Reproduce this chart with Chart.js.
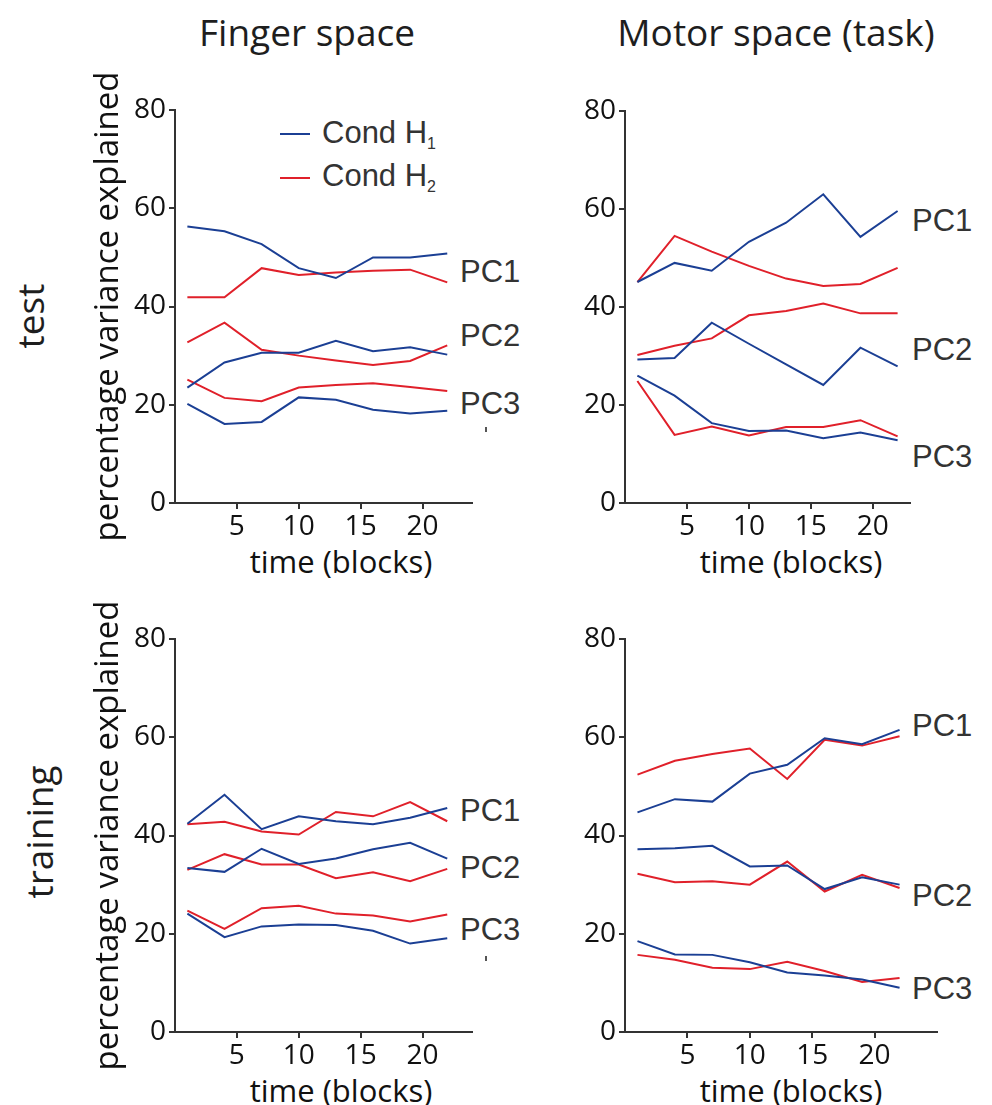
<!DOCTYPE html>
<html>
<head>
<meta charset="utf-8">
<script src="https://cdn.jsdelivr.net/npm/chart.js@4.4.0/dist/chart.umd.min.js"></script>
<style>
  html, body { margin: 0; padding: 0; background: #fff; overflow: hidden; }
  body { width: 992px; height: 1105px; position: relative; }
  canvas { position: absolute; }
  .txt { position: absolute; white-space: nowrap; line-height: 1; color: #1e1e1e; }
  .os { font-family: "Open Sans", sans-serif; }
  .hv { font-family: "Liberation Sans", Arial, sans-serif; color: #333; font-size: 31px; }
  .pc { transform: translateY(-50%); }
  .ctr { transform: translate(-50%, -50%); }
  .mark { position: absolute; width: 2px; height: 5px; background: #555; }
</style>
</head>
<body>

<!-- titres colonnes / lignes -->
<div class="txt os ctr" style="left:307px;top:31px;font-size:37px">Finger space</div>
<div class="txt os ctr" style="left:776px;top:31px;font-size:37px">Motor space (task)</div>
<div class="txt os" style="left:29px;top:316px;font-size:37px;transform:translate(-50%,-50%) rotate(-90deg)">test</div>
<div class="txt os" style="left:38px;top:832px;font-size:37px;transform:translate(-50%,-50%) rotate(-90deg)">training</div>

<!-- titres axe x -->
<div class="txt os ctr" style="left:341px;top:561px;font-size:31px;color:#111">time (blocks)</div>
<div class="txt os ctr" style="left:791px;top:561px;font-size:31px;color:#111">time (blocks)</div>
<div class="txt os ctr" style="left:341px;top:1090px;font-size:31px;color:#111">time (blocks)</div>
<div class="txt os ctr" style="left:791px;top:1090px;font-size:31px;color:#111">time (blocks)</div>

<!-- legende -->
<div style="position:absolute;left:280px;top:133px;width:30px;height:2px;background:#1b3f94"></div>
<div class="txt hv pc" style="left:322px;top:134px">Cond H<sub style="font-size:16px;vertical-align:-6px">1</sub></div>
<div style="position:absolute;left:280px;top:177px;width:30px;height:2px;background:#e0202a"></div>
<div class="txt hv pc" style="left:322px;top:177px">Cond H<sub style="font-size:16px;vertical-align:-6px">2</sub></div>

<!-- etiquettes PC -->
<div class="txt hv pc" style="left:460px;top:271px">PC1</div>
<div class="txt hv pc" style="left:460px;top:335px">PC2</div>
<div class="txt hv pc" style="left:460px;top:403px">PC3</div>
<div class="txt hv pc" style="left:912px;top:220px">PC1</div>
<div class="txt hv pc" style="left:912px;top:349px">PC2</div>
<div class="txt hv pc" style="left:912px;top:456px">PC3</div>
<div class="txt hv pc" style="left:460px;top:810px">PC1</div>
<div class="txt hv pc" style="left:460px;top:867px">PC2</div>
<div class="txt hv pc" style="left:460px;top:929px">PC3</div>
<div class="txt hv pc" style="left:912px;top:725px">PC1</div>
<div class="txt hv pc" style="left:912px;top:895px">PC2</div>
<div class="txt hv pc" style="left:912px;top:988px">PC3</div>
<div class="mark" style="left:485px;top:427px"></div>
<div class="mark" style="left:485px;top:956px"></div>

<canvas id="fingerTest" width="411" height="530" style="left:89px;top:60px"></canvas>
<canvas id="motorTest" width="380" height="530" style="left:560px;top:60px"></canvas>
<canvas id="fingerTrain" width="411" height="530" style="left:89px;top:589px"></canvas>
<canvas id="motorTrain" width="400" height="530" style="left:560px;top:589px"></canvas>

<script>
// blocs (axe x)
var blocks = [1, 4, 7, 10, 13, 16, 19, 22];
var xTicks = [5, 10, 15, 20];
var yTicks = [0, 20, 40, 60, 80];

// Finger space - test
var ftH1pc1 = [56.3, 55.3, 52.7, 47.8, 45.8, 50.0, 50.0, 50.8];
var ftH2pc1 = [41.9, 41.9, 47.8, 46.4, 46.9, 47.3, 47.5, 44.9];
var ftH1pc2 = [23.5, 28.6, 30.6, 30.6, 33.0, 30.9, 31.7, 30.2];
var ftH2pc2 = [32.7, 36.7, 31.2, 30.0, 29.0, 28.1, 28.9, 32.1];
var ftH1pc3 = [20.2, 16.1, 16.5, 21.5, 21.0, 19.0, 18.2, 18.8];
var ftH2pc3 = [25.1, 21.4, 20.7, 23.5, 24.0, 24.4, 23.6, 22.8];

// Motor space - test
var mtH1pc1 = [45.1, 49.0, 47.4, 53.3, 57.2, 63.0, 54.3, 59.6];
var mtH2pc1 = [45.1, 54.5, 51.3, 48.4, 45.8, 44.3, 44.7, 48.0];
var mtH1pc2 = [29.3, 29.6, 36.8, 32.5, 28.3, 24.1, 31.7, 27.9];
var mtH2pc2 = [30.2, 32.1, 33.6, 38.3, 39.2, 40.7, 38.7, 38.7];
var mtH1pc3 = [26.0, 21.9, 16.3, 14.7, 14.8, 13.2, 14.4, 12.8];
var mtH2pc3 = [24.9, 13.9, 15.6, 13.8, 15.5, 15.5, 16.9, 13.6];

// Finger space - training
var frH1pc1 = [42.4, 48.3, 41.3, 43.9, 42.9, 42.3, 43.6, 45.6];
var frH2pc1 = [42.3, 42.8, 40.8, 40.2, 44.8, 43.9, 46.8, 42.9];
var frH1pc2 = [33.4, 32.6, 37.3, 34.2, 35.3, 37.2, 38.5, 35.3];
var frH2pc2 = [33.0, 36.2, 34.1, 34.1, 31.3, 32.5, 30.7, 33.2];
var frH1pc3 = [24.1, 19.3, 21.5, 21.9, 21.8, 20.6, 18.0, 19.1];
var frH2pc3 = [24.7, 21.0, 25.2, 25.7, 24.1, 23.7, 22.5, 23.9];

// Motor space - training
var mrH1pc1 = [44.7, 47.4, 46.9, 52.6, 54.4, 59.8, 58.6, 61.5];
var mrH2pc1 = [52.4, 55.2, 56.6, 57.7, 51.5, 59.5, 58.3, 60.2];
var mrH1pc2 = [37.2, 37.4, 37.9, 33.7, 33.9, 29.1, 31.5, 30.0];
var mrH2pc2 = [32.2, 30.5, 30.7, 30.0, 34.7, 28.6, 32.0, 29.3];
var mrH1pc3 = [18.5, 15.8, 15.7, 14.2, 12.1, 11.5, 10.7, 9.0];
var mrH2pc3 = [15.7, 14.7, 13.1, 12.8, 14.3, 12.4, 10.2, 11.0];

var blue = "#1b3f94";
var red = "#e0202a";
var axisCol = "#333";

function serie(label, vals, color) {
  return {
    label: label,
    data: blocks.map(function (b, i) { return { x: b, y: vals[i] }; }),
    borderColor: color,
    backgroundColor: color,
    borderWidth: 2,
    pointRadius: 0,
    tension: 0,
    fill: false
  };
}

// un panneau = un graphique
function panel(id, h1, h2, xMax, rightPad, topPad, yWidth, showYTitle) {
  var datasets = [];
  for (var i = 0; i < 3; i++) datasets.push(serie("Cond H1 PC" + (i + 1), h1[i], blue));
  for (var i = 0; i < 3; i++) datasets.push(serie("Cond H2 PC" + (i + 1), h2[i], red));

  return new Chart(document.getElementById(id), {
    type: "line",
    data: { datasets: datasets },
    options: {
      responsive: false,
      animation: false,
      layout: { padding: { top: topPad, right: rightPad, left: 0, bottom: 0 } },
      plugins: { legend: { display: false }, tooltip: { enabled: false } },
      scales: {
        x: {
          type: "linear",
          min: 0,
          max: xMax,
          afterBuildTicks: function (s) { s.ticks = xTicks.map(function (v) { return { value: v }; }); },
          afterFit: function (s) { s.height = 87; },
          border: { color: axisCol, width: 2 },
          grid: { drawOnChartArea: false, color: axisCol, lineWidth: 2, tickLength: 6 },
          ticks: { color: "#111", font: { family: "Open Sans", size: 28 }, padding: 1, maxRotation: 0, autoSkip: false }
        },
        y: {
          min: 0,
          max: 80,
          afterBuildTicks: function (s) { s.ticks = yTicks.map(function (v) { return { value: v }; }); },
          afterFit: function (s) { s.width = yWidth; },
          border: { color: axisCol, width: 2 },
          grid: { drawOnChartArea: false, color: axisCol, lineWidth: 2, tickLength: 6 },
          ticks: { color: "#111", font: { family: "Open Sans", size: 28 }, padding: 3 },
          title: {
            display: showYTitle,
            text: "percentage variance explained",
            color: "#111",
            font: { family: "Open Sans", size: 33 },
            padding: { top: 0, bottom: 0 }
          }
        }
      }
    }
  });
}

panel("fingerTest", [ftH1pc1, ftH1pc2, ftH1pc3], [ftH2pc1, ftH2pc2, ftH2pc3], 24, 28, 50, 86, true);
panel("motorTest", [mtH1pc1, mtH1pc2, mtH1pc3], [mtH2pc1, mtH2pc2, mtH2pc3], 23, 30, 51, 65, false);
panel("fingerTrain", [frH1pc1, frH1pc2, frH1pc3], [frH2pc1, frH2pc2, frH2pc3], 24, 28, 50, 86, true);
panel("motorTrain", [mrH1pc1, mrH1pc2, mrH1pc3], [mrH2pc1, mrH2pc2, mrH2pc3], 25, 23, 50, 65, false);
</script>
</body>
</html>
